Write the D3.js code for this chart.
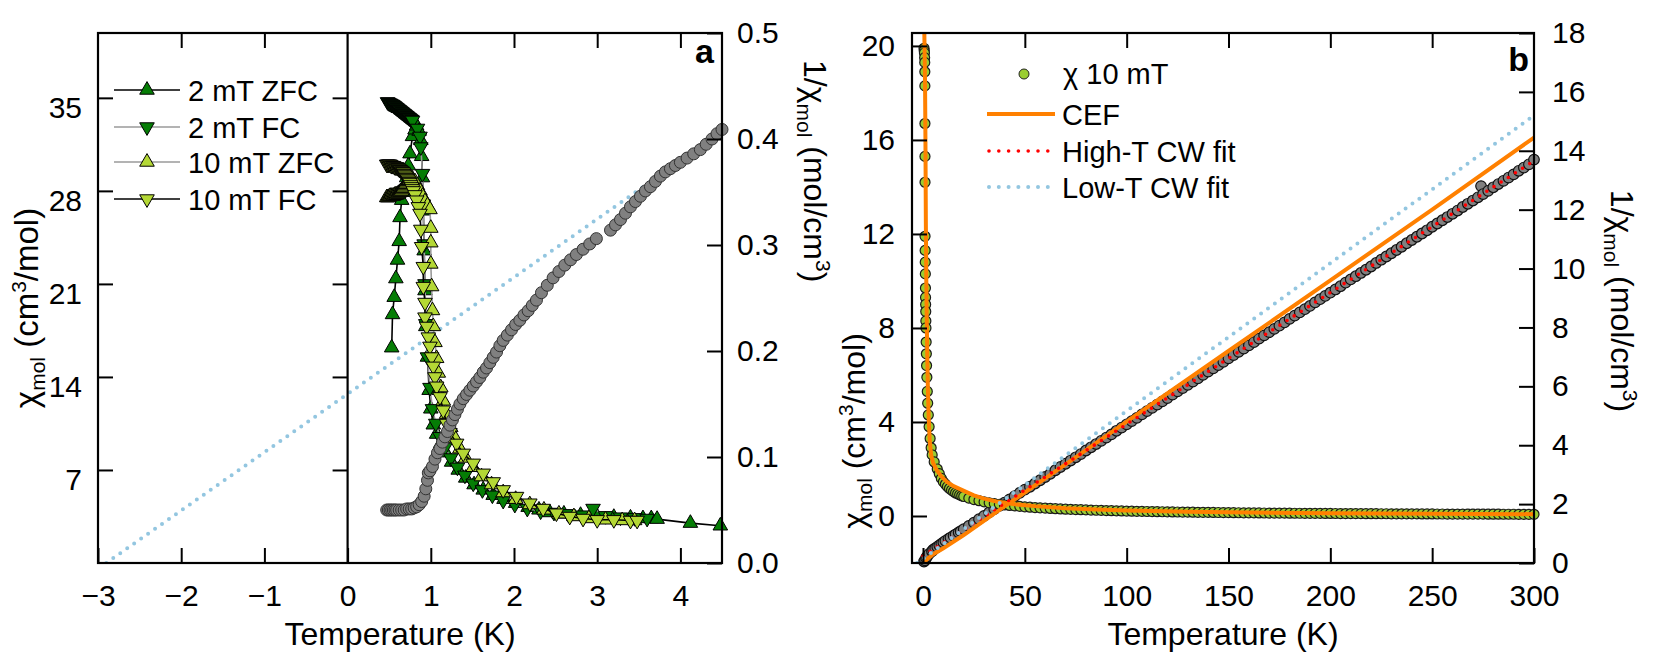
<!DOCTYPE html>
<html>
<head>
<meta charset="utf-8">
<script src="https://cdn.jsdelivr.net/npm/d3@7"></script>
<style>
  body { margin: 0; background: #fff; }
  svg text { font-family: "Liberation Sans", Arial, Helvetica, sans-serif; fill: #000; }
</style>
</head>
<body>
<svg id="chart" width="1661" height="665"></svg>
<script>
"use strict";

/* ---- panel a: low-T susceptibility, [T (K), chi (cm3/mol)] ---- */
const zfc2mT = [
  [0.53, 16.2], [0.54, 18.7], [0.56, 20.0], [0.58, 21.4], [0.60, 22.8], [0.62, 24.2],
  [0.63, 26.0], [0.65, 27.3], [0.67, 27.9], [0.69, 28.3], [0.71, 29.0], [0.73, 29.9],
  [0.75, 30.8], [0.78, 32.1], [0.81, 32.6], [0.83, 32.9], [0.86, 32.5], [0.88, 31.8],
  [0.89, 30.6], [0.90, 29.0], [0.91, 26.5], [0.92, 23.5], [0.93, 20.5], [0.94, 17.8],
  [0.96, 15.5], [0.98, 13.0], [1.0, 11.6], [1.03, 10.4], [1.07, 9.7], [1.12, 9.0],
  [1.18, 8.3], [1.25, 7.6], [1.33, 7.0], [1.42, 6.4], [1.52, 5.9], [1.63, 5.5],
  [1.75, 5.1], [1.88, 4.8], [2.02, 4.5], [2.17, 4.2], [2.3, 4.0], [2.43, 3.8],
  [2.6, 3.7], [2.8, 3.6], [3.0, 3.5], [3.2, 3.45], [3.4, 3.4], [3.55, 3.35],
  [3.65, 3.35], [3.72, 3.3], [4.12, 3.0], [4.48, 2.8]
];
const fc2mT = [
  [0.48, 34.7], [0.49, 34.65], [0.50, 34.6], [0.51, 34.6], [0.52, 34.55], [0.53, 34.5],
  [0.54, 34.5], [0.55, 34.45], [0.56, 34.4], [0.57, 34.35], [0.58, 34.3], [0.59, 34.25],
  [0.60, 34.2], [0.61, 34.15], [0.62, 34.1], [0.63, 34.05], [0.64, 34.0], [0.65, 33.95],
  [0.66, 33.9], [0.67, 33.85], [0.68, 33.8], [0.69, 33.75], [0.70, 33.7], [0.71, 33.65],
  [0.72, 33.6], [0.73, 33.55], [0.74, 33.5], [0.75, 33.45], [0.76, 33.4], [0.77, 33.35],
  [0.78, 33.3], [0.84, 32.7], [0.87, 32.1], [0.88, 31.3],
  [0.90, 29.3], [0.91, 27.0], [0.92, 24.0], [0.93, 21.0], [0.94, 18.0], [0.96, 15.5],
  [0.99, 13.2], [1.02, 11.6], [1.06, 10.5], [1.11, 9.5], [1.17, 8.7], [1.24, 7.9],
  [1.32, 7.2], [1.41, 6.6], [1.51, 6.0], [1.62, 5.5], [1.74, 5.1], [1.87, 4.7],
  [2.01, 4.4], [2.16, 4.1], [2.32, 3.9], [2.48, 3.8], [2.65, 3.7], [2.82, 3.6],
  [2.95, 4.1], [3.1, 3.55], [3.28, 3.45], [3.45, 3.4], [3.6, 3.35]
];
const zfc10mT = [
  [0.47, 27.5], [0.48, 27.5], [0.49, 27.5], [0.50, 27.55], [0.51, 27.6], [0.52, 27.6],
  [0.53, 27.6], [0.54, 27.6], [0.55, 27.6], [0.56, 27.65], [0.57, 27.7], [0.58, 27.7],
  [0.59, 27.7], [0.60, 27.75], [0.61, 27.8], [0.62, 27.85], [0.63, 27.9], [0.64, 27.95],
  [0.65, 28.0], [0.66, 28.1], [0.67, 28.2], [0.68, 28.3], [0.69, 28.4], [0.70, 28.5],
  [0.71, 28.6], [0.72, 28.7], [0.73, 28.75], [0.74, 28.8], [0.75, 28.9], [0.76, 28.9],
  [0.78, 28.9], [0.81, 28.7], [0.84, 28.4], [0.87, 28.0],
  [0.90, 27.6], [0.93, 27.2], [0.96, 26.9], [0.99, 26.6], [1.0, 25.2], [1.0, 24.1],
  [1.0, 22.5], [1.01, 20.8], [1.02, 19.0], [1.03, 17.8], [1.05, 16.6], [1.07, 15.4],
  [1.09, 14.3], [1.12, 13.2], [1.15, 12.2], [1.19, 11.2], [1.24, 10.2], [1.29, 9.4],
  [1.35, 8.6], [1.42, 7.9], [1.51, 7.2], [1.61, 6.5], [1.73, 5.9], [1.87, 5.3],
  [2.02, 4.8], [2.19, 4.4], [2.36, 4.0], [2.54, 3.7], [2.72, 3.5], [2.9, 3.35],
  [3.1, 3.25], [3.3, 3.2], [3.45, 3.2]
];
const fc10mT = [
  [0.47, 30.0], [0.48, 30.0], [0.49, 30.0], [0.50, 30.0], [0.51, 30.0], [0.52, 29.95],
  [0.53, 29.9], [0.54, 29.9], [0.55, 29.9], [0.56, 29.85], [0.57, 29.8], [0.58, 29.8],
  [0.59, 29.8], [0.60, 29.75], [0.61, 29.7], [0.62, 29.65], [0.63, 29.6], [0.64, 29.55],
  [0.65, 29.5], [0.66, 29.45], [0.67, 29.4], [0.68, 29.3], [0.69, 29.2], [0.70, 29.1],
  [0.71, 29.0], [0.72, 28.9], [0.73, 28.8], [0.74, 28.7], [0.75, 28.6], [0.76, 28.45],
  [0.77, 28.3], [0.78, 28.15], [0.79, 28.0], [0.81, 27.7],
  [0.83, 27.3], [0.85, 26.8], [0.87, 26.3], [0.88, 25.1], [0.89, 23.8], [0.91, 22.3],
  [0.91, 20.8], [0.93, 19.6], [0.93, 18.5], [0.95, 17.8], [0.97, 17.0], [0.99, 16.3],
  [1.01, 15.5], [1.03, 14.8], [1.05, 14.0], [1.07, 13.3], [1.11, 12.5], [1.15, 11.5],
  [1.19, 10.5], [1.23, 9.8], [1.31, 9.0], [1.39, 8.25], [1.51, 7.5], [1.63, 6.75],
  [1.75, 6.1], [1.87, 5.5], [2.03, 5.0], [2.19, 4.5], [2.35, 4.1], [2.51, 3.75],
  [2.67, 3.5], [2.83, 3.35], [3.0, 3.25], [3.2, 3.25], [3.4, 3.2], [3.48, 3.2]
];
/* inverse susceptibility, [T (K), 1/chi (mol/cm3)] */
const invChiA = [
  [0.47, 0.050], [0.49, 0.050], [0.51, 0.050], [0.53, 0.050], [0.55, 0.050], [0.57, 0.050],
  [0.59, 0.050], [0.62, 0.050],
  [0.65, 0.050], [0.68, 0.050], [0.71, 0.051], [0.74, 0.051], [0.77, 0.051], [0.80, 0.052],
  [0.83, 0.053], [0.86, 0.055], [0.89, 0.058], [0.92, 0.063], [0.94, 0.070], [0.96, 0.078],
  [0.97, 0.085], [0.99, 0.087], [1.02, 0.091], [1.05, 0.098], [1.08, 0.104], [1.11, 0.108],
  [1.14, 0.114], [1.17, 0.119], [1.20, 0.124], [1.23, 0.130], [1.26, 0.135], [1.29, 0.140],
  [1.32, 0.145], [1.35, 0.150], [1.39, 0.155], [1.43, 0.159], [1.47, 0.163], [1.51, 0.167],
  [1.55, 0.171], [1.59, 0.175], [1.63, 0.180], [1.67, 0.184], [1.71, 0.189], [1.75, 0.194],
  [1.79, 0.199], [1.83, 0.205], [1.87, 0.210], [1.92, 0.215], [1.97, 0.220], [2.02, 0.225],
  [2.07, 0.229], [2.12, 0.234], [2.17, 0.238], [2.22, 0.243], [2.27, 0.248], [2.33, 0.255],
  [2.40, 0.262], [2.47, 0.269], [2.54, 0.275], [2.61, 0.281], [2.68, 0.286], [2.75, 0.291],
  [2.83, 0.296], [2.91, 0.301], [2.99, 0.306], [3.16, 0.314], [3.22, 0.319], [3.28, 0.324],
  [3.34, 0.330], [3.40, 0.336], [3.46, 0.341], [3.52, 0.346], [3.58, 0.351], [3.64, 0.355],
  [3.70, 0.360], [3.76, 0.365], [3.82, 0.369], [3.88, 0.372], [3.94, 0.375], [4.0, 0.378],
  [4.08, 0.382], [4.16, 0.386], [4.24, 0.390], [4.31, 0.395], [4.38, 0.400], [4.44, 0.405],
  [4.50, 0.409]
];
const lowCwA = [[-2.9, 0], [4.5, 0.407]];

/* ---- panel b: 10 mT up to 300 K ---- */
const chiB = [
  [0.5, 19.9], [0.6, 19.8], [0.7, 19.7], [0.8, 19.5], [0.85, 19.3], [0.9, 18.9], [0.92, 18.3],
  [0.95, 16.7], [0.97, 15.3], [0.99, 14.2], [1.0, 11.9], [1.05, 11.3], [1.1, 10.8], [1.15, 10.3],
  [1.2, 9.7], [1.25, 9.3], [1.3, 9.0], [1.35, 8.7], [1.4, 8.3], [1.45, 8.0], [1.55, 7.4],
  [1.65, 6.9], [1.75, 6.4], [1.9, 5.9], [2.1, 5.3], [2.3, 4.8], [2.6, 4.3], [3.0, 3.8],
  [3.5, 3.3], [4.0, 2.9], [4.5, 2.6], [5.5, 2.3], [7, 2.0], [8, 1.8], [9, 1.6], [10, 1.45],
  [11, 1.35], [12, 1.25], [13, 1.17], [14, 1.1], [15, 1.04], [16, 0.98], [17, 0.94], [18, 0.9],
  [19, 0.86], [20, 0.83], [22.5, 0.76], [25, 0.7], [27.5, 0.65], [30, 0.6], [32.5, 0.56],
  [35, 0.53], [37.5, 0.5], [40, 0.47], [42.5, 0.45], [45, 0.43], [47.5, 0.41], [50, 0.39],
  [52.5, 0.375], [55, 0.36], [57.5, 0.348], [60, 0.335], [62.5, 0.322], [65, 0.31],
  [67.5, 0.3], [70, 0.29], [72.5, 0.282], [75, 0.275], [77.5, 0.267], [80, 0.26],
  [82.5, 0.252], [85, 0.245], [87.5, 0.238], [90, 0.232], [92.5, 0.226], [95, 0.22],
  [97.5, 0.215], [100, 0.21], [102.5, 0.205], [105, 0.2], [107.5, 0.196], [110, 0.192],
  [112.5, 0.188], [115, 0.184], [117.5, 0.18], [120, 0.177], [122.5, 0.173], [125, 0.17],
  [127.5, 0.167], [130, 0.164], [132.5, 0.161], [135, 0.158], [137.5, 0.155], [140, 0.153],
  [142.5, 0.15], [145, 0.148], [147.5, 0.145], [150, 0.143], [152.5, 0.141], [155, 0.139],
  [157.5, 0.136], [160, 0.134], [162.5, 0.132], [165, 0.13], [167.5, 0.128], [170, 0.126],
  [172.5, 0.124], [175, 0.123], [177.5, 0.121], [180, 0.119], [182.5, 0.117], [185, 0.116],
  [187.5, 0.114], [190, 0.113], [192.5, 0.111], [195, 0.11], [197.5, 0.109], [200, 0.108],
  [202.5, 0.106], [205, 0.105], [207.5, 0.104], [210, 0.103], [212.5, 0.101], [215, 0.1],
  [217.5, 0.099], [220, 0.098], [222.5, 0.097], [225, 0.096], [227.5, 0.095], [230, 0.094],
  [232.5, 0.093], [235, 0.092], [237.5, 0.091], [240, 0.09], [242.5, 0.089], [245, 0.088],
  [247.5, 0.087], [250, 0.086], [252.5, 0.085], [255, 0.084], [257.5, 0.083], [260, 0.083],
  [262.5, 0.082], [265, 0.081], [267.5, 0.08], [270, 0.08], [272.5, 0.079], [275, 0.078],
  [277.5, 0.077], [280, 0.077], [282.5, 0.076], [285, 0.075], [287.5, 0.075], [290, 0.074],
  [292.5, 0.073], [295, 0.073], [297.5, 0.072], [300, 0.072]
];
const invChiB = [
  [0.5, 0.05], [1, 0.09], [1.5, 0.17], [2, 0.22], [3, 0.31], [4.4, 0.40], [5, 0.45], [6, 0.5],
  [7, 0.55], [8, 0.6], [9, 0.65], [10, 0.7], [11, 0.75], [12.5, 0.82], [13.5, 0.86], [15, 0.93],
  [16, 0.97], [17.5, 1.04], [18.5, 1.08], [20, 1.15], [22.5, 1.26], [25, 1.37], [27.5, 1.49],
  [30, 1.6], [32.5, 1.72], [35, 1.83], [37.5, 1.94], [40, 2.05], [42.5, 2.16], [45, 2.27],
  [47.5, 2.38], [50, 2.49], [52.5, 2.59], [55, 2.70], [57.5, 2.81], [60, 2.92], [62.5, 3.03],
  [65, 3.15], [67.5, 3.26], [70, 3.37], [72.5, 3.48], [75, 3.59], [77.5, 3.70], [80, 3.82],
  [82.5, 3.93], [85, 4.04], [87.5, 4.15], [90, 4.26], [92.5, 4.37], [95, 4.49], [97.5, 4.60],
  [100, 4.71], [102.5, 4.82], [105, 4.93], [107.5, 5.05], [110, 5.16], [112.5, 5.27],
  [115, 5.38], [117.5, 5.49], [120, 5.60], [122.5, 5.72], [125, 5.83], [127.5, 5.94],
  [130, 6.05], [132.5, 6.16], [135, 6.27], [137.5, 6.39], [140, 6.50], [142.5, 6.61],
  [145, 6.72], [147.5, 6.83], [150, 6.95], [152.5, 7.06], [155, 7.17], [157.5, 7.28],
  [160, 7.39], [162.5, 7.50], [165, 7.62], [167.5, 7.73], [170, 7.84], [172.5, 7.95],
  [175, 8.06], [177.5, 8.17], [180, 8.29], [182.5, 8.40], [185, 8.51], [187.5, 8.62],
  [190, 8.73], [192.5, 8.85], [195, 8.96], [197.5, 9.07], [200, 9.18], [202.5, 9.29],
  [205, 9.40], [207.5, 9.52], [210, 9.63], [212.5, 9.74], [215, 9.85], [217.5, 9.96],
  [220, 10.07], [222.5, 10.19], [225, 10.30], [227.5, 10.41], [230, 10.52], [232.5, 10.63],
  [235, 10.74], [237.5, 10.86], [240, 10.97], [242.5, 11.08], [245, 11.19], [247.5, 11.30],
  [250, 11.42], [252.5, 11.53], [255, 11.64], [257.5, 11.75], [260, 11.86], [262.5, 11.97],
  [265, 12.09], [267.5, 12.20], [270, 12.31], [272.5, 12.42], [274, 12.80], [275, 12.53],
  [277.5, 12.64], [280, 12.76], [282.5, 12.87], [285, 12.98], [287.5, 13.09], [290, 13.20],
  [292.5, 13.32], [295, 13.43], [297.5, 13.54], [300, 13.70]
];
const cefChi = [
  [0.65, 20.6], [1.0, 18.5], [1.2, 16], [1.4, 12.5], [1.6, 10.2], [1.8, 8.6], [2.1, 6.8],
  [2.4, 5.4], [2.8, 4.2], [3.3, 3.2], [4, 2.6], [5, 2.25], [6.7, 1.96], [9, 1.68],
  [11.6, 1.46], [15, 1.27], [19.8, 1.08], [25, 0.88], [30, 0.74], [36, 0.62], [45, 0.5],
  [55, 0.42], [70, 0.33], [85, 0.275], [100, 0.235], [130, 0.18], [160, 0.146],
  [200, 0.117], [250, 0.094], [300, 0.078]
];
const cefInv = [
  [0.8, 0], [1.0, 0.05], [2, 0.13], [5, 0.3], [10, 0.5], [20, 0.95], [40, 1.92],
  [70, 3.35], [100, 4.8], [150, 7.2], [200, 9.6], [250, 12.0], [300, 14.45]
];
const highCwB = [[0, 0.24], [300, 13.66]];
const lowCwB = [[-2.9, 0], [300, 15.2]];

const legendA = ["2 mT ZFC", "2 mT FC", "10 mT ZFC", "10 mT FC"];
const legendB = ["\u03c7 10 mT", "CEF", "High-T CW fit", "Low-T CW fit"];

/* ---- styling ---- */
const DARK_GREEN = "#057d05";
const LIGHT_GREEN = "#b4d835";
const CHI_GREEN = "#9acd32";
const ORANGE = "#ff8000";
const SKY = "#93c6e0";
const RED = "#ff0000";
const GRAY = "#808080";
const FONT = 30;

const svg = d3.select("#chart");
const yTop = 33, yBot = 563;

const xA = d3.scaleLinear([-3, 4.5], [98, 722]);
const yA = d3.scaleLinear([0, 39.88], [yBot, yTop]);
const yAR = d3.scaleLinear([0, 0.5], [yBot, yTop]);
const xB = d3.scaleLinear([-5.4, 300], [912, 1534]);
const yB = d3.scaleLinear([-2, 20.55], [yBot, yTop]);
const yBR = d3.scaleLinear([0, 18], [yBot, yTop]);

const defs = svg.append("defs");
function clip(id, x0, x1) {
  defs.append("clipPath").attr("id", id)
    .append("rect").attr("x", x0).attr("y", yTop).attr("width", x1 - x0).attr("height", yBot - yTop);
  return `url(#${id})`;
}

/* axis with inward ticks; labels optional */
function axis(gen, pos, values, fmt, pad) {
  const g = svg.append("g")
    .attr("transform", pos)
    .call(gen.tickValues(values).tickSize(-15).tickPadding(pad).tickFormat(fmt));
  g.select(".domain").remove();
  g.selectAll("line").attr("stroke-width", 2);
  g.attr("font-size", FONT).attr("font-family", null);
  return g;
}

function frame(x0, x1) {
  svg.append("rect")
    .attr("x", x0).attr("y", yTop).attr("width", x1 - x0).attr("height", yBot - yTop)
    .attr("fill", "none").attr("stroke", "#000").attr("stroke-width", 2.2);
}

function addLabel(x, y, rot, anchor, pieces, size = 32) {
  const t = svg.append("text")
    .attr("transform", `translate(${x},${y}) rotate(${rot})`)
    .attr("text-anchor", anchor)
    .attr("font-size", size);
  let shift = 0;
  for (const [str, kind] of pieces) {
    const want = kind === "sub" ? 7 : kind === "sup" ? -12 : 0;
    t.append("tspan").attr("dy", want - shift).attr("font-size", kind ? 21 : null).text(str);
    shift = want;
  }
}

const chiPieces = [["\u03c7"], ["mol", "sub"], [" (cm"], ["3", "sup"], ["/mol)"]];
const invPieces = [["1/\u03c7"], ["mol", "sub"], [" (mol/cm"], ["3", "sup"], [")"]];

const triUp = d3.symbol(d3.symbolTriangle, 92)();

function triangles(g, data, x, y, fill, down) {
  g.append("g").selectAll("path").data(data).join("path")
    .attr("d", triUp)
    .attr("transform", (d) => `translate(${x(d[0])},${y(d[1])})${down ? " rotate(180)" : ""}`)
    .attr("fill", fill).attr("stroke", "#000").attr("stroke-width", 1);
}

function dots(g, data, x, y, r, fill, stroke, sw = 1) {
  g.append("g").selectAll("circle").data(data).join("circle")
    .attr("cx", (d) => x(d[0])).attr("cy", (d) => y(d[1])).attr("r", r)
    .attr("fill", fill).attr("stroke", stroke).attr("stroke-width", sw);
}

function path(g, data, x, y, color, width, dotted, clipUrl) {
  g.append("path")
    .datum(data)
    .attr("d", d3.line((d) => x(d[0]), (d) => y(d[1])))
    .attr("fill", "none").attr("stroke", color).attr("stroke-width", width)
    .attr("stroke-dasharray", dotted ? "0 8.5" : null)
    .attr("stroke-linecap", dotted ? "round" : "butt")
    .attr("clip-path", clipUrl);
}

/* ===================== panel a ===================== */
const clipA = clip("clip-a", 98, 722);
const plotA = svg.append("g");

path(plotA, lowCwA, xA, yAR, SKY, 4, true, clipA);

const seriesA = [
  { data: zfc2mT, fill: DARK_GREEN, down: false, line: "#000" },
  { data: fc2mT, fill: DARK_GREEN, down: true, line: "#9a9a9a" },
  { data: zfc10mT, fill: LIGHT_GREEN, down: false, line: "#9a9a9a" },
  { data: fc10mT, fill: LIGHT_GREEN, down: true, line: "#000" }
];
for (const s of seriesA) {
  path(plotA, s.data, xA, yA, s.line, 1.6, false, clipA);
  triangles(plotA, s.data, xA, yA, s.fill, s.down);
}
dots(plotA, invChiA, xA, yAR, 6, GRAY, "#333");

frame(98, 722);
svg.append("line")
  .attr("x1", xA(0)).attr("x2", xA(0)).attr("y1", yTop).attr("y2", yBot)
  .attr("stroke", "#000").attr("stroke-width", 2.2);

axis(d3.axisBottom(xA), `translate(0,${yBot})`, [-3, -2, -1, 0, 1, 2, 3, 4], d3.format("d"), 22);
axis(d3.axisTop(xA), `translate(0,${yTop})`, [-2, -1, 1, 2, 3, 4], "", 0);
axis(d3.axisLeft(yA), "translate(98,0)", [7, 14, 21, 28, 35], d3.format("d"), 16)
  .selectAll("text").attr("y", 10);
axis(d3.axisRight(yA), `translate(${xA(0)},0)`, [7, 14, 21, 28, 35], "", 0);
axis(d3.axisRight(yAR), "translate(722,0)", [0, 0.1, 0.2, 0.3, 0.4, 0.5], d3.format(".1f"), 15);

svg.append("text").attr("x", 714).attr("y", 63).attr("text-anchor", "end")
  .attr("font-size", 34).attr("font-weight", "bold").text("a");

/* legend a */
legendA.forEach((name, i) => {
  const s = seriesA[i];
  const cy = [90, 127, 162, 199][i];
  svg.append("line").attr("x1", 114).attr("x2", 180).attr("y1", cy).attr("y2", cy)
    .attr("stroke", s.line).attr("stroke-width", 1.6);
  svg.append("path").attr("d", triUp)
    .attr("transform", `translate(147,${cy})${s.down ? " rotate(180)" : ""}`)
    .attr("fill", s.fill).attr("stroke", "#000").attr("stroke-width", 1);
  svg.append("text").attr("x", 188).attr("y", cy + 10.5).attr("font-size", 29).text(name);
});

addLabel(38, 308, -90, "middle", chiPieces, 33);
addLabel(804, 60, 90, "start", invPieces);
svg.append("text").attr("x", 400).attr("y", 645).attr("text-anchor", "middle")
  .attr("font-size", 32).text("Temperature (K)");

/* ===================== panel b ===================== */
const clipB = clip("clip-b", 912, 1534);
const plotB = svg.append("g");

dots(plotB, invChiB, xB, yBR, 5.3, GRAY, "#111", 1.2);
dots(plotB, chiB, xB, yB, 5, CHI_GREEN, "#1a1a1a", 1.2);
path(plotB, cefChi, xB, yB, ORANGE, 4, false, clipB);
path(plotB, cefInv, xB, yBR, ORANGE, 4, false, clipB);
path(plotB, highCwB, xB, yBR, RED, 3.6, true, clipB);
path(plotB, lowCwB, xB, yBR, SKY, 4, true, clipB);

frame(912, 1534);
axis(d3.axisBottom(xB), `translate(0,${yBot})`, [0, 50, 100, 150, 200, 250, 300], d3.format("d"), 22);
axis(d3.axisTop(xB), `translate(0,${yTop})`, [50, 100, 150, 200, 250], "", 0);
axis(d3.axisLeft(yB), "translate(912,0)", [0, 4, 8, 12, 16, 20], d3.format("d"), 17);
axis(d3.axisRight(yBR), "translate(1534,0)", d3.range(0, 19, 2), d3.format("d"), 18);

svg.append("text").attr("x", 1529).attr("y", 71).attr("text-anchor", "end")
  .attr("font-size", 34).attr("font-weight", "bold").text("b");

/* legend b */
svg.append("circle").attr("cx", 1024).attr("cy", 74).attr("r", 5)
  .attr("fill", CHI_GREEN).attr("stroke", "#222");
svg.append("line").attr("x1", 987).attr("x2", 1055).attr("y1", 114).attr("y2", 114)
  .attr("stroke", ORANGE).attr("stroke-width", 4);
svg.append("line").attr("x1", 989).attr("x2", 1052).attr("y1", 151).attr("y2", 151)
  .attr("stroke", RED).attr("stroke-width", 3.6).attr("stroke-dasharray", "0 9.8").attr("stroke-linecap", "round");
svg.append("line").attr("x1", 989).attr("x2", 1052).attr("y1", 187).attr("y2", 187)
  .attr("stroke", SKY).attr("stroke-width", 4).attr("stroke-dasharray", "0 9.8").attr("stroke-linecap", "round");
legendB.forEach((name, i) => {
  svg.append("text").attr("x", i === 0 ? 1063 : 1062).attr("y", [84, 125, 162, 198][i])
    .attr("font-size", 29).text(name);
});

addLabel(865, 431, -90, "middle", chiPieces);
addLabel(1611, 301, 90, "middle", invPieces);
svg.append("text").attr("x", 1223).attr("y", 645).attr("text-anchor", "middle")
  .attr("font-size", 32).text("Temperature (K)");
</script>
</body>
</html>
